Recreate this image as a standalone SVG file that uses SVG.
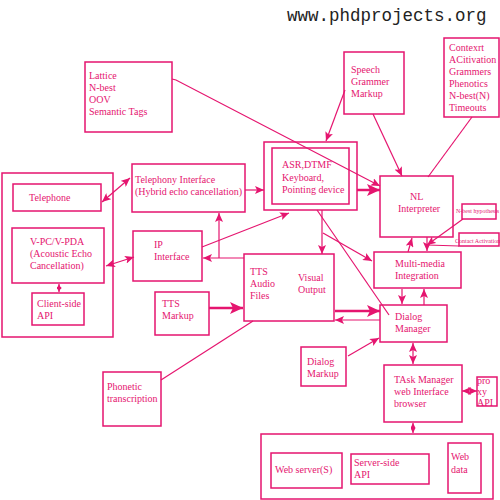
<svg xmlns="http://www.w3.org/2000/svg" width="500" height="500" viewBox="0 0 500 500">
<style>
rect{fill:none;stroke:#e5156f;stroke-width:1.5}
text{font-family:"Liberation Serif","Times New Roman",serif;font-size:10px;fill:#e5156f}
.c line,.c path,.c polyline{stroke:#e5156f;stroke-width:1.2;fill:none}
.t{stroke-width:2.5!important}
.s{font-size:6px}
</style>
<defs>
<marker id="a" markerUnits="userSpaceOnUse" markerWidth="9" markerHeight="8" refX="9" refY="4" orient="auto"><path d="M0,0 L9,4 L0,8 L2,4 z" fill="#e5156f"/></marker>
<marker id="b" markerUnits="userSpaceOnUse" markerWidth="9" markerHeight="8" refX="0" refY="4" orient="auto"><path d="M9,0 L0,4 L9,8 L7,4 z" fill="#e5156f"/></marker>
<marker id="A" markerUnits="userSpaceOnUse" markerWidth="13" markerHeight="12" refX="13" refY="6" orient="auto"><path d="M0,0 L13,6 L0,12 L3,6 z" fill="#e5156f"/></marker>
<marker id="m" markerUnits="userSpaceOnUse" markerWidth="5" markerHeight="5" refX="5" refY="2.5" orient="auto"><path d="M0,0 L5,2.5 L0,5 z" fill="#e5156f"/></marker>
<marker id="n" markerUnits="userSpaceOnUse" markerWidth="5" markerHeight="5" refX="0" refY="2.5" orient="auto"><path d="M5,0 L0,2.5 L5,5 z" fill="#e5156f"/></marker>
</defs>
<text x="287" y="21" style="font-family:'Liberation Mono','Courier New',monospace;font-size:17.5px;fill:#222">www.phdprojects.org</text>

<g class="c" id="connectors">
<polyline points="172,79 176,80 380,186" marker-end="url(#a)"/>
<line x1="345" y1="90" x2="326" y2="141" marker-end="url(#a)"/>
<line x1="373" y1="114" x2="402" y2="176" marker-end="url(#a)"/>
<line x1="472" y1="117" x2="428" y2="177"/>
<line x1="357" y1="190" x2="380" y2="190" class="t" marker-end="url(#A)"/>
<line x1="245" y1="190" x2="264" y2="190" marker-end="url(#a)"/>
<line x1="102" y1="202" x2="130" y2="178" marker-start="url(#b)" marker-end="url(#a)"/>
<line x1="202" y1="247" x2="289" y2="213" marker-end="url(#a)"/>
<line x1="244" y1="258" x2="203" y2="258" marker-end="url(#a)"/>
<line x1="219" y1="258" x2="219" y2="213" marker-end="url(#a)"/>
<line x1="106" y1="266" x2="134" y2="257" marker-start="url(#b)" marker-end="url(#a)"/>
<line x1="59" y1="284" x2="59" y2="292" marker-start="url(#n)" marker-end="url(#m)"/>
<line x1="322" y1="210" x2="322" y2="254" marker-end="url(#a)"/>
<line x1="323" y1="233" x2="372" y2="261" marker-end="url(#a)"/>
<line x1="317" y1="210" x2="389" y2="315"/>
<line x1="463" y1="219" x2="427" y2="245" marker-end="url(#a)"/>
<line x1="459" y1="246" x2="427" y2="245"/>
<line x1="427" y1="237" x2="427" y2="251" marker-end="url(#a)"/>
<line x1="408" y1="252" x2="412" y2="238" marker-end="url(#a)"/>
<line x1="402" y1="289" x2="402" y2="304" marker-end="url(#a)"/>
<line x1="424" y1="305" x2="424" y2="289" marker-end="url(#a)"/>
<line x1="209" y1="308" x2="243" y2="308" class="t" marker-end="url(#A)"/>
<line x1="335" y1="311" x2="380" y2="311" class="t" marker-end="url(#A)"/>
<line x1="380" y1="320" x2="335" y2="320" marker-end="url(#a)"/>
<line x1="161" y1="380" x2="253" y2="321"/>
<line x1="348" y1="356" x2="379" y2="338" marker-end="url(#a)"/>
<line x1="413" y1="343" x2="413" y2="364" marker-start="url(#b)" marker-end="url(#a)"/>
<line x1="462" y1="391" x2="477" y2="391" marker-start="url(#b)" marker-end="url(#a)"/>
<line x1="413" y1="423" x2="413" y2="433" marker-start="url(#n)" marker-end="url(#m)"/>
</g>

<g id="lattice"><rect x="85" y="62" width="87" height="70"/><text x="89" y="79">Lattice</text><text x="89" y="91">N-best</text><text x="89" y="103">OOV</text><text x="89" y="115">Semantic Tags</text></g>
<g id="speech-grammar"><rect x="344" y="52" width="60" height="62"/><text x="351" y="73">Speech</text><text x="351" y="85">Grammer</text><text x="351" y="97">Markup</text></g>
<g id="context"><rect x="444" y="38" width="55" height="79"/><text x="449" y="51">Contexrt</text><text x="449" y="63">ACitivation</text><text x="449" y="75">Grammers</text><text x="449" y="87">Phenotics</text><text x="449" y="99">N-best(N)</text><text x="449" y="111">Timeouts</text></g>
<g id="asr"><rect x="264" y="142" width="93" height="68"/><rect x="272" y="148" width="77" height="56"/><text x="282" y="168">ASR,DTMF</text><text x="282" y="181">Keyboard,</text><text x="282" y="193">Pointing device</text></g>
<g id="nl"><rect x="380" y="176" width="73" height="61"/><text x="410" y="200">NL</text><text x="398" y="212">Interpreter</text></g>
<g id="nbest-hyp"><rect x="462" y="204" width="34" height="15"/><text class="s" x="456" y="213">N-best hypothesis</text></g>
<g id="contact-act"><rect x="459" y="233" width="40" height="13"/><text class="s" x="455" y="243">Contact Activation</text></g>
<g id="client-container"><rect x="2" y="173" width="111" height="164"/></g>
<g id="telephone"><rect x="13" y="184" width="88" height="27"/><text x="29" y="201">Telephone</text></g>
<g id="vpc"><rect x="12" y="228" width="92" height="55"/><text x="30" y="245">V-PC/V-PDA</text><text x="30" y="257">(Acoustic Echo</text><text x="30" y="269">Cancellation)</text></g>
<g id="client-api"><rect x="32" y="293" width="52" height="32"/><text x="37" y="307">Client-side</text><text x="37" y="319">API</text></g>
<g id="telephony"><rect x="132" y="164" width="113" height="48"/><text x="135" y="183">Telephony Interface</text><text x="135" y="195">(Hybrid echo cancellation)</text></g>
<g id="ip"><rect x="133" y="231" width="69" height="50"/><text x="154" y="248">IP</text><text x="154" y="260">Interface</text></g>
<g id="tts-markup"><rect x="155" y="292" width="54" height="43"/><text x="162" y="307">TTS</text><text x="162" y="319">Markup</text></g>
<g id="tts-audio"><rect x="244" y="254" width="90" height="67"/><text x="250" y="275">TTS</text><text x="250" y="287">Audio</text><text x="250" y="299">Files</text><text x="298" y="281">Visual</text><text x="298" y="293">Output</text></g>
<g id="multimedia"><rect x="374" y="252" width="87" height="36"/><text x="395" y="267">Multi-media</text><text x="395" y="279">Integration</text></g>
<g id="dialog-manager"><rect x="380" y="305" width="67" height="37"/><text x="395" y="320">Dialog</text><text x="395" y="332">Manager</text></g>
<g id="phonetic"><rect x="103" y="372" width="58" height="54"/><text x="107" y="390">Phonetic</text><text x="107" y="402">transcription</text></g>
<g id="dialog-markup"><rect x="301" y="347" width="45" height="39"/><text x="307" y="365">Dialog</text><text x="307" y="377">Markup</text></g>
<g id="task-manager"><rect x="384" y="365" width="78" height="57"/><text x="394" y="383">TAsk Manager</text><text x="394" y="395">web Interface</text><text x="394" y="407">browser</text></g>
<g id="proxy"><rect x="477" y="377" width="20" height="29"/><text x="477" y="384">pro</text><text x="477" y="395">xy</text><text x="477" y="406">API</text></g>
<g id="server-container"><rect x="261" y="434" width="232" height="65"/></g>
<g id="web-server"><rect x="271" y="453" width="71" height="35"/><text x="275" y="473">Web server(S)</text></g>
<g id="server-api"><rect x="351" y="454" width="78" height="30"/><text x="354" y="466">Server-side</text><text x="354" y="478">API</text></g>
<g id="web-data"><rect x="448" y="443" width="33" height="50"/><text x="451" y="460">Web</text><text x="451" y="473">data</text></g>
</svg>
